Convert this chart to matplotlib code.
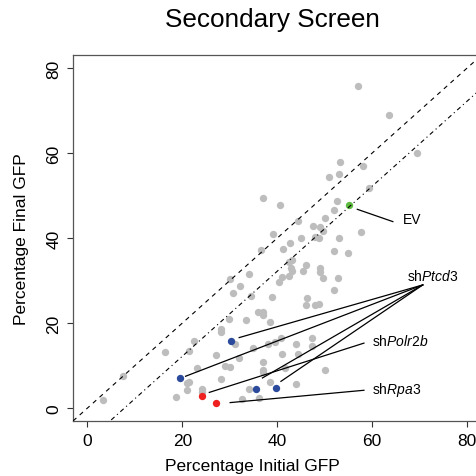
import numpy as np
import matplotlib
matplotlib.use("Agg")
import matplotlib.pyplot as plt

plt.rcParams['font.family'] = ['Liberation Sans', 'DejaVu Sans']
plt.rcParams['mathtext.fontset'] = 'custom'
plt.rcParams['mathtext.rm'] = 'Liberation Sans'
plt.rcParams['mathtext.it'] = 'Liberation Sans:italic'

# --- DATA ---
gray_x = [3.2, 7.5, 16.3, 18.7, 21.1, 20.9, 21.5, 23.1, 22.5, 21.5, 24.1, 24.1,
          27.1, 28.2, 29.0, 30.1, 28.1, 28.2, 29.8, 31.1, 30.1, 32.1, 30.8, 34.1,
          34.5, 32.0, 33.4, 35.9, 37.0, 37.0, 38.4, 35.0, 38.1, 39.5, 40.8, 41.0,
          44.0, 44.4, 47.4, 47.4, 37.1, 37.1, 37.0, 41.6, 38.6, 44.0, 50.0, 34.1,
          32.5, 36.2, 39.0, 46.2, 46.1, 48.0, 48.9, 51.9, 41.0, 42.5, 40.5, 49.7,
          52.8, 45.5, 42.9, 43.1, 49.1, 49.1, 46.1, 43.1, 42.6, 36.5, 41.3, 52.0,
          54.9, 42.7, 45.0, 48.0, 48.8, 53.0, 39.1, 57.7, 47.6, 49.0, 49.7, 44.4,
          50.0, 52.0, 52.6, 37.0, 40.6, 59.4, 51.0, 53.0, 53.2, 58.0, 69.4, 63.5,
          57.0]
gray_y = [2.0, 7.5, 13.1, 2.6, 4.3, 5.9, 6.1, 9.4, 15.8, 13.5, 4.5, 3.7,
          12.6, 6.8, 9.8, 9.7, 18.6, 18.0, 21.0, 15.0, 30.4, 28.7, 27.1, 31.6,
          26.4, 11.8, 20.7, 22.7, 22.7, 21.9, 20.3, 14.1, 15.1, 15.5, 16.6, 12.7,
          15.1, 12.7, 16.4, 14.7, 10.8, 9.0, 8.5, 9.4, 6.2, 5.6, 9.0, 4.6,
          2.2, 2.4, 26.1, 26.0, 24.3, 24.3, 24.5, 27.8, 30.9, 31.0, 29.8, 30.6,
          30.7, 32.3, 33.1, 32.3, 33.0, 32.0, 33.8, 34.9, 34.3, 37.2, 37.5, 37.1,
          36.6, 38.8, 40.0, 40.2, 40.0, 40.0, 41.1, 41.5, 42.9, 42.6, 41.8, 44.0,
          44.8, 46.7, 48.8, 49.5, 47.9, 51.9, 54.5, 55.0, 57.9, 57.0, 60.0, 69.1,
          75.8]

ptcd3_x = [30.3, 19.5, 35.6, 39.8]
ptcd3_y = [15.9, 7.0, 4.6, 4.7]
red_x = [24.1, 27.1]      # shPolr2b, shRpa3
red_y = [2.9, 1.3]
ev_x, ev_y = 55.2, 47.7

# label anchors and leader line ends
ptcd3_hub = (70.7, 29.0)
ptcd3_starts = [(32.0, 16.6), (20.7, 7.5), (36.9, 7.1), (40.8, 6.3)]
polr2b_line = [(25.7, 3.7), (58.3, 15.3)]
rpa3_line = [(30.1, 1.3), (58.3, 4.2)]
ev_line = [(56.9, 46.8), (64.4, 43.9)]
offset = 7.8  # dash-dot line sits below y = x

ticks = [0, 20, 40, 60, 80]

# --- PLOT ---
fig = plt.figure(figsize=(4.76, 4.77), dpi=100)
ax = fig.add_axes([0.1527, 0.1147, 0.860, 0.7686])

ax.scatter(gray_x, gray_y, s=28, color='#bdbdbd', linewidths=0, zorder=2)
ax.scatter(ptcd3_x, ptcd3_y, s=28, color='#2c4a9c', linewidths=0, zorder=3)
ax.scatter(red_x, red_y, s=28, color='#ee2020', linewidths=0, zorder=3)
ax.scatter([ev_x], [ev_y], s=28, color='#5dbb3f', linewidths=0, zorder=3)

line_x = np.array([-10, 100])
ax.plot(line_x, line_x, color='black', lw=0.8, ls=(0, (4, 4)), zorder=4)
ax.plot(line_x, line_x - offset, color='black', lw=0.8, ls=(0, (4, 3, 1, 3)), zorder=4)

for sx, sy in ptcd3_starts:
    ax.plot([sx, ptcd3_hub[0]], [sy, ptcd3_hub[1]], color='black', lw=0.9, zorder=4)
for seg in [polr2b_line, rpa3_line, ev_line]:
    ax.plot([seg[0][0], seg[1][0]], [seg[0][1], seg[1][1]], color='black', lw=0.9, zorder=4)

ax.text(66.5, 44.4, "EV", fontsize=10, va='center', ha='left')
ax.text(67.3, 31.2, r"sh$\mathit{Ptcd3}$", fontsize=10, va='center', ha='left')
ax.text(59.9, 15.9, r"sh$\mathit{Polr2b}$", fontsize=10, va='center', ha='left')
ax.text(59.9, 4.6, r"sh$\mathit{Rpa3}$", fontsize=10, va='center', ha='left')

ax.set_xlim(-3.1, 83.2)
ax.set_ylim(-3.1, 83.2)
ax.set_xticks(ticks)
ax.set_yticks(ticks)
ax.tick_params(axis='both', length=4.3, width=0.8, labelsize=12.5, pad=4, color='#333333')
for lab in ax.get_yticklabels():
    lab.set_rotation(90)
    lab.set_va('center')
for sp in ax.spines.values():
    sp.set_color('#555555')
    sp.set_linewidth(0.9)

ax.set_xlabel("Percentage Initial GFP", fontsize=12.5)
ax.set_ylabel("Percentage Final GFP", fontsize=12.5)
ax.xaxis.set_label_coords(0.44, -0.121)
ax.yaxis.set_label_coords(-0.124, 0.5)
ax.xaxis.label.set_va('center')
ax.yaxis.label.set_va('center')

fig.text(0.572, 0.958, "Secondary Screen", fontsize=18.8, ha='center', va='center')

fig.savefig("out.png", dpi=100)
